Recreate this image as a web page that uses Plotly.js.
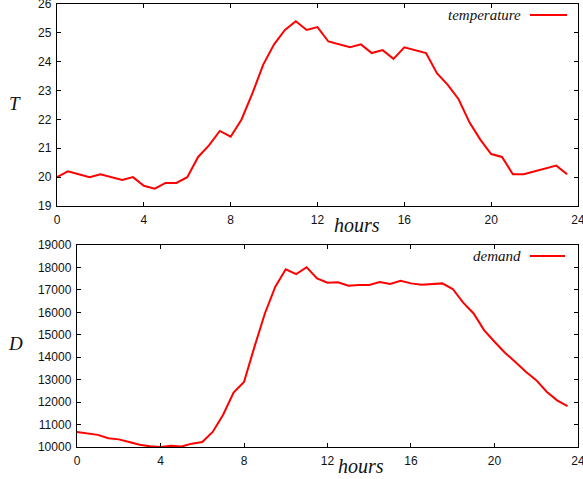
<!DOCTYPE html>
<html>
<head>
<meta charset="utf-8">
<script src="https://cdn.plot.ly/plotly-3.0.1.min.js"></script>
<style>
  html, body { margin: 0; padding: 0; background: #fff; }
  #chart { width: 583px; height: 479px; }
</style>
</head>
<body>
<div id="chart"></div>
<script>
// Half-hourly readings over one day
const hours = [
  0, 0.5, 1, 1.5, 2, 2.5, 3, 3.5, 4, 4.5, 5, 5.5, 6, 6.5, 7, 7.5,
  8, 8.5, 9, 9.5, 10, 10.5, 11, 11.5, 12, 12.5, 13, 13.5, 14, 14.5, 15, 15.5,
  16, 16.5, 17, 17.5, 18, 18.5, 19, 19.5, 20, 20.5, 21, 21.5, 22, 22.5, 23, 23.5
];

const temperature = [
  20.0, 20.2, 20.1, 20.0, 20.1, 20.0, 19.9, 20.0, 19.7, 19.6, 19.8, 19.8, 20.0, 20.7, 21.1, 21.6,
  21.4, 22.0, 22.9, 23.9, 24.6, 25.1, 25.4, 25.1, 25.2, 24.7, 24.6, 24.5, 24.6, 24.3, 24.4, 24.1,
  24.5, 24.4, 24.3, 23.6, 23.2, 22.7, 21.9, 21.3, 20.8, 20.7, 20.1, 20.1, 20.2, 20.3, 20.4, 20.1
];

const demand = [
  10670, 10600, 10540, 10390, 10340, 10220, 10100, 10030, 10000, 10060, 10020, 10150, 10220, 10670, 11440, 12430,
  12900, 14460, 15950, 17140, 17920, 17700, 18010, 17510, 17320, 17340, 17190, 17220, 17220, 17350, 17260, 17410,
  17290, 17230, 17260, 17290, 17040, 16430, 15950, 15210, 14690, 14200, 13790, 13350, 12980, 12460, 12080, 11820
];

const hourTicks = [0, 4, 8, 12, 16, 20, 24];
const tempTicks = [19, 20, 21, 22, 23, 24, 25, 26];
const demandTicks = [10000, 11000, 12000, 13000, 14000, 15000, 16000, 17000, 18000, 19000];

const RED = '#ff0000';
const tickFont = { family: 'Liberation Sans, Arial, sans-serif', size: 12, color: '#111' };
const serifItalic = { family: 'Liberation Serif, Times New Roman, serif', color: '#111' };

function frameAxis(extra) {
  return Object.assign({
    showline: true, linecolor: '#000', linewidth: 1.3, mirror: 'ticks',
    ticks: 'inside', ticklen: 4, tickwidth: 1, tickcolor: '#000',
    showgrid: false, zeroline: false, tickfont: tickFont, fixedrange: true,
    tickformat: 'd', ticklabeloverflow: 'allow', ticklabelstandoff: 2
  }, extra);
}

const traces = [
  { x: hours, y: temperature, xaxis: 'x', yaxis: 'y', mode: 'lines',
    line: { color: RED, width: 2 }, name: 'temperature', showlegend: false },
  { x: hours, y: demand, xaxis: 'x2', yaxis: 'y2', mode: 'lines',
    line: { color: RED, width: 2 }, name: 'demand', showlegend: false }
];

function label(px, py, text, size, xanchor) {
  return {
    xref: 'paper', yref: 'paper', x: px / 583, y: 1 - py / 479,
    xanchor: xanchor || 'center', yanchor: 'middle', text: '<i>' + text + '</i>',
    showarrow: false, font: Object.assign({ size: size }, serifItalic)
  };
}

const layout = {
  width: 583, height: 479,
  margin: { l: 0, r: 0, t: 0, b: 0 },
  paper_bgcolor: '#fff', plot_bgcolor: '#fff',
  xaxis: frameAxis({ domain: [0.0978, 0.9914], range: [0, 24], tickvals: hourTicks, anchor: 'y' }),
  yaxis: frameAxis({ domain: [0.5699, 0.9917], range: [19, 26], tickvals: tempTicks, anchor: 'x' }),
  xaxis2: frameAxis({ domain: [0.1321, 0.9914], range: [0, 24], tickvals: hourTicks, anchor: 'y2' }),
  yaxis2: frameAxis({ domain: [0.0668, 0.4885], range: [10000, 19000], tickvals: demandTicks, anchor: 'x2' }),
  annotations: [
    label(357, 225, 'hours', 20),
    label(361, 466, 'hours', 20),
    label(15, 103, 'T', 19),
    label(15, 343, 'D', 19),
    label(523, 15, 'temperature', 15, 'right'),
    label(523, 256, 'demand', 15, 'right')
  ],
  shapes: [
    { type: 'line', xref: 'paper', yref: 'paper', x0: 530 / 583, x1: 567 / 583,
      y0: 1 - 15 / 479, y1: 1 - 15 / 479, line: { color: RED, width: 2 } },
    { type: 'line', xref: 'paper', yref: 'paper', x0: 530 / 583, x1: 565 / 583,
      y0: 1 - 256 / 479, y1: 1 - 256 / 479, line: { color: RED, width: 2 } }
  ]
};

Plotly.newPlot('chart', traces, layout, { displayModeBar: false, staticPlot: true });
</script>
</body>
</html>
